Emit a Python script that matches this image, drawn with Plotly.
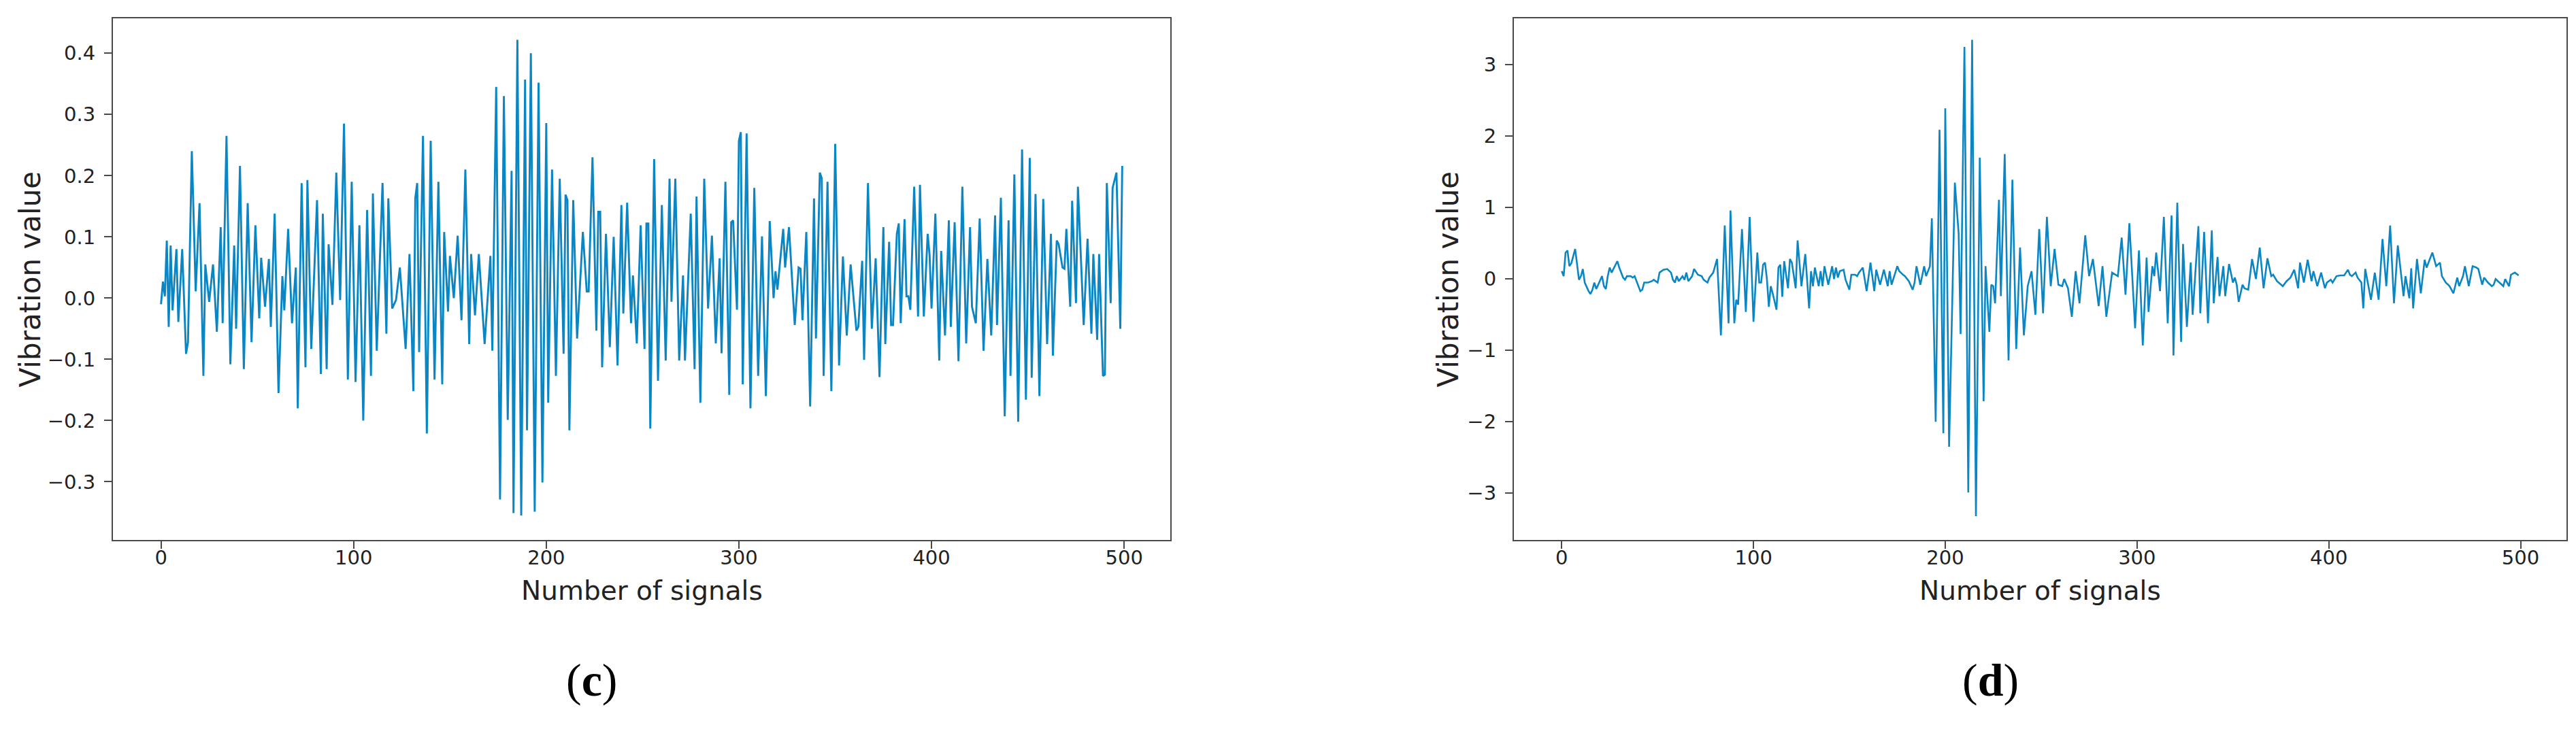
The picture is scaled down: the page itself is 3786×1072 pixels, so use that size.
import plotly.graph_objects as go

# vibration signal (c): sample number and value
left_n = [0, 1, 2, 3, 4, 5, 6, 8, 9, 11,
          13, 14, 16, 18, 20, 22, 23, 25, 27, 29,
          31, 32, 34, 36, 38, 39, 41, 43, 45, 47,
          49, 51, 52, 54, 56, 57, 59, 61, 63, 64,
          66, 68, 70, 71, 73, 75, 76, 78, 81, 83,
          84, 86, 87, 89, 91, 93, 95, 97, 99, 101,
          103, 105, 107, 109, 110, 112, 115, 117, 118, 120,
          122, 124, 127, 129, 131, 132, 133, 134, 136, 138,
          140, 142, 144, 146, 147, 149, 150, 152, 154, 156,
          158, 160, 161, 163, 165, 168, 171, 172, 174, 176,
          178, 180, 182, 183, 185, 187, 189, 190, 192, 194,
          196, 198, 200, 201, 203, 205, 207, 209, 210, 211,
          212, 214, 216, 219, 221, 222, 224, 226, 227, 228,
          229, 231, 233, 235, 237, 239, 240, 242, 244, 245,
          247, 249, 251, 252, 253, 254, 256, 258, 260, 262,
          264, 265, 267, 269, 271, 272, 275, 277, 278, 280,
          282, 284, 286, 288, 290, 291, 293, 295, 296, 297,
          299, 300, 301, 302, 304, 306, 308, 310, 312, 314,
          316, 318, 319, 320, 323, 324, 326, 329, 331, 332,
          333, 335, 337, 339, 340, 342, 343, 344, 346, 348,
          350, 352, 354, 356, 358, 361, 362, 364, 365, 367,
          369, 371, 373, 375, 376, 378, 379, 380, 382, 383,
          384, 386, 387, 388, 389, 391, 393, 394, 396, 398,
          399, 400, 402, 404, 405, 407, 409, 410, 412, 414,
          416, 418, 420, 421, 423, 425, 427, 429, 431, 433,
          434, 436, 438, 440, 441, 443, 445, 447, 449, 451,
          452, 454, 456, 458, 460, 462, 463, 465, 466, 468,
          469, 470, 472, 473, 475, 476, 479, 481, 483, 484,
          486, 487, 489, 490, 491, 493, 494, 496, 498, 499]
left_v = [-0.01, 0.027, 0.003, 0.094, -0.047, 0.086, -0.02, 0.08, -0.039, 0.08,
          -0.091, -0.072, 0.24, 0.011, 0.155, -0.127, 0.055, -0.006, 0.055, -0.055,
          0.116, -0.041, 0.265, -0.108, 0.086, -0.05, 0.216, -0.116, 0.155, -0.072,
          0.119, -0.033, 0.066, -0.014, 0.064, -0.047, 0.138, -0.155, 0.036, -0.02,
          0.113, -0.041, 0.05, -0.18, 0.188, -0.113, 0.193, -0.083, 0.16, -0.124,
          0.138, -0.116, 0.088, -0.011, 0.205, -0.003, 0.285, -0.133, 0.19, -0.137,
          0.119, -0.2, 0.144, -0.127, 0.171, -0.086, 0.188, -0.058, 0.163, -0.017,
          -0.003, 0.05, -0.083, 0.072, -0.152, 0.163, 0.188, -0.088, 0.265, -0.221,
          0.257, -0.133, 0.19, -0.141, 0.108, -0.022, 0.069, 0.0, 0.102, -0.036,
          0.21, -0.075, 0.072, -0.028, 0.072, -0.075, 0.069, -0.086, 0.345, -0.329,
          0.33, -0.199, 0.208, -0.351, 0.422, -0.355, 0.357, -0.216, 0.4, -0.349,
          0.352, -0.301, 0.286, -0.171, 0.21, -0.127, 0.195, -0.091, 0.169, 0.16,
          -0.216, 0.16, -0.066, 0.108, 0.011, 0.011, 0.23, -0.053, 0.141, 0.141,
          -0.113, 0.105, -0.08, 0.1, -0.11, 0.152, -0.025, 0.156, -0.041, 0.037,
          -0.074, 0.119, -0.083, 0.122, 0.122, -0.213, 0.227, -0.135, 0.152, -0.102,
          0.195, -0.006, 0.195, -0.102, 0.037, -0.102, 0.138, -0.116, 0.166, -0.171,
          0.195, -0.017, 0.102, -0.074, 0.065, -0.09, 0.19, -0.158, 0.124, 0.127,
          -0.019, 0.257, 0.271, -0.141, 0.269, -0.18, 0.18, -0.127, 0.101, -0.16,
          0.126, 0.0, 0.044, 0.014, 0.113, 0.05, 0.116, -0.044, 0.05, 0.048,
          -0.036, 0.108, -0.177, 0.163, -0.066, 0.205, 0.196, -0.127, 0.19, -0.152,
          0.252, -0.11, 0.068, -0.061, 0.055, -0.053, -0.047, 0.061, -0.101, 0.188,
          -0.05, 0.065, -0.129, 0.116, -0.075, 0.092, -0.044, -0.044, 0.105, 0.122,
          -0.041, 0.129, 0.003, 0.003, -0.019, 0.182, -0.03, 0.185, -0.03, 0.105,
          0.07, -0.017, 0.138, -0.102, 0.077, -0.061, 0.127, -0.047, 0.124, -0.103,
          0.182, -0.074, 0.116, -0.014, -0.041, 0.13, -0.086, 0.064, -0.061, 0.135,
          -0.044, 0.164, -0.193, 0.127, -0.127, 0.202, -0.202, 0.243, -0.166, 0.229,
          -0.13, 0.17, -0.16, 0.162, -0.075, 0.105, -0.094, 0.094, 0.088, 0.05,
          0.048, 0.113, -0.014, 0.159, -0.008, 0.182, -0.044, 0.097, -0.058, 0.072,
          -0.068, 0.072, -0.127, -0.125, 0.188, -0.008, 0.18, 0.205, -0.05, 0.216]

# vibration signal (d)
right_n = [0, 1, 2, 3, 4, 5, 7, 8, 9, 10,
           11, 12, 14, 15, 16, 17, 18, 19, 21, 22,
           23, 24, 25, 26, 27, 29, 30, 31, 32, 33,
           34, 36, 37, 38, 40, 41, 42, 43, 45, 47,
           48, 50, 51, 53, 55, 57, 58, 59, 60, 61,
           63, 64, 65, 66, 68, 69, 71, 73, 74, 76,
           77, 79, 81, 83, 85, 87, 88, 90, 91, 92,
           94, 96, 98, 100, 102, 103, 104, 105, 106, 107,
           108, 109, 110, 112, 113, 114, 115, 116, 118, 119,
           120, 122, 123, 125, 127, 129, 130, 131, 132, 134,
           135, 136, 137, 139, 141, 142, 143, 144, 145, 147,
           148, 150, 151, 153, 154, 155, 157, 159, 161, 163,
           164, 166, 168, 170, 171, 172, 175, 176, 178, 179,
           181, 183, 184, 185, 187, 189, 190, 192, 193, 195,
           197, 199, 200, 202, 205, 207, 208, 210, 212, 214,
           216, 218, 220, 221, 223, 224, 225, 226, 228, 229,
           231, 233, 235, 237, 239, 241, 243, 245, 247, 249,
           251, 253, 255, 257, 259, 261, 262, 264, 266, 268,
           270, 273, 275, 277, 280, 282, 284, 287, 290, 292,
           294, 296, 299, 301, 303, 305, 306, 308, 309, 310,
           312, 314, 316, 318, 319, 321, 323, 324, 326, 328,
           329, 332, 333, 335, 337, 339, 340, 342, 343, 345,
           346, 348, 350, 351, 352, 353, 355, 356, 358, 360,
           362, 364, 366, 368, 370, 371, 373, 376, 378, 380,
           382, 384, 385, 387, 389, 391, 392, 394, 396, 398,
           399, 401, 402, 404, 406, 408, 410, 411, 412, 414,
           415, 417, 418, 419, 422, 424, 426, 428, 430, 432,
           434, 436, 439, 440, 442, 443, 444, 446, 448, 450,
           451, 454, 456, 458, 459, 461, 463, 465, 467, 468,
           470, 471, 473, 475, 477, 478, 480, 481, 483, 485,
           486, 487, 489, 491, 492, 494, 495, 497, 499]
right_v = [0.11, 0.04, 0.37, 0.40, 0.18, 0.22, 0.42, 0.18, -0.01, 0.04,
           0.14, -0.05, -0.17, -0.21, -0.15, -0.05, -0.14, -0.08, 0.04, -0.1,
           -0.14, 0.04, 0.16, 0.09, 0.14, 0.25, 0.16, 0.09, 0.02, -0.01,
           0.04, 0.04, 0.02, 0.04, -0.1, -0.17, -0.15, -0.05, -0.05, -0.03,
           -0.01, -0.05, 0.09, 0.13, 0.14, 0.09, -0.01, -0.05, 0.04, -0.03,
           0.04, -0.01, 0.09, -0.03, 0.04, 0.14, 0.06, 0.04, -0.01, -0.05,
           0.02, 0.09, 0.28, -0.79, 0.75, -0.62, 0.96, -0.62, -0.29, -0.36,
           0.70, -0.46, 0.87, -0.6, 0.37, -0.05, -0.05, 0.2, 0.23, 0.0,
           -0.39, -0.1, -0.2, -0.43, 0.16, 0.2, -0.25, 0.25, -0.13, 0.28,
           0.23, -0.13, 0.54, -0.1, 0.35, -0.41, 0.11, -0.1, 0.16, -0.1,
           0.11, -0.1, 0.18, -0.08, 0.18, 0.0, 0.16, 0.02, 0.11, 0.13,
           -0.01, -0.15, 0.06, 0.06, 0.04, 0.09, 0.16, -0.17, 0.23, -0.17,
           0.13, -0.08, 0.13, -0.1, 0.11, -0.08, 0.18, 0.11, 0.06, 0.04,
           -0.03, -0.15, -0.05, 0.18, -0.08, 0.18, 0.04, 0.18, 0.85, -2.0,
           2.09, -2.16, 2.39, -2.35, 1.35, 0.63, -0.77, 3.25, -2.99, 3.35,
           -3.32, 1.70, -1.71, 0.18, -0.74, -0.08, -0.1, -0.34, 1.11, -0.24,
           1.75, -1.14, 1.39, -0.98, 0.44, -0.79, -0.1, 0.11, -0.5, 0.7,
           -0.48, 0.87, -0.1, 0.42, -0.08, -0.1, 0.0, -0.13, -0.53, 0.11,
           -0.34, 0.61, 0.04, 0.28, -0.38, 0.18, -0.53, 0.09, 0.04, 0.58,
           -0.22, 0.78, -0.69, 0.4, -0.93, 0.3, -0.46, 0.18, 0.04, 0.37,
           -0.17, 0.87, -0.62, 0.89, -1.07, 1.07, -0.88, 0.49, -0.67, 0.23,
           -0.5, 0.74, -0.48, 0.66, -0.62, 0.68, -0.34, 0.31, -0.24, 0.18,
           -0.24, 0.21, -0.05, 0.02, -0.08, -0.32, -0.08, -0.13, -0.15, 0.28,
           0.0, 0.44, -0.13, 0.29, 0.04, 0.06, -0.03, -0.1, -0.03, 0.02,
           0.13, -0.13, 0.23, -0.05, 0.27, -0.03, 0.11, -0.1, 0.09, -0.13,
           -0.05, -0.01, -0.05, 0.04, 0.05, 0.05, 0.13, 0.06, 0.04, 0.09,
           0.02, -0.05, -0.41, 0.14, -0.29, 0.09, -0.29, 0.56, -0.1, 0.75,
           -0.34, 0.47, -0.24, 0.04, -0.27, 0.15, -0.41, 0.28, -0.2, 0.27,
           0.16, 0.37, 0.18, 0.23, 0.04, -0.05, -0.1, -0.2, 0.02, -0.1,
           0.04, 0.18, -0.1, 0.18, 0.16, 0.14, -0.08, 0.02, -0.05, -0.1,
           -0.08, 0.0, -0.05, -0.1, 0.0, -0.1, 0.06, 0.09, 0.05]

x_ticks = [0, 100, 200, 300, 400, 500]
left_yticks = [-0.3, -0.2, -0.1, 0.0, 0.1, 0.2, 0.3, 0.4]
right_yticks = [-3, -2, -1, 0, 1, 2, 3]
panel_labels = ["(<b>c</b>)", "(<b>d</b>)"]

W, H = 3786, 1072
line_col = "#0a86c4"
txt_col = "#222222"

fig = go.Figure()
fig.add_trace(go.Scatter(x=left_n, y=left_v, mode="lines",
                         line=dict(color=line_col, width=2.9), xaxis="x", yaxis="y"))
fig.add_trace(go.Scatter(x=right_n, y=right_v, mode="lines",
                         line=dict(color=line_col, width=2.6), xaxis="x2", yaxis="y2"))

# axes boxes in pixels (left, right, top, bottom)
boxes = [(158, 1712, 19, 786), (2217, 3764, 19, 786)]

def xdom(b):
    return [b[0] / W, b[1] / W]

def ydom(b):
    return [1 - b[3] / H, 1 - b[2] / H]

common = dict(showline=True, linecolor="#4a4a4a", linewidth=2.2, mirror=True,
              ticks="outside", ticklen=11, tickwidth=2, tickcolor="#4a4a4a",
              showgrid=False, zeroline=False,
              tickfont=dict(family="DejaVu Sans", size=29, color=txt_col))

fig.update_layout(
    width=W, height=H, margin=dict(l=0, r=0, t=0, b=0),
    paper_bgcolor="white", plot_bgcolor="white", showlegend=False,
    xaxis=dict(domain=xdom(boxes[0]), range=[-24.95, 523.95], tickvals=x_ticks,
               anchor="y", ticklabelstandoff=-12, **common),
    yaxis=dict(domain=ydom(boxes[0]), range=[-0.395, 0.457], tickvals=left_yticks,
               tickformat=".1f", anchor="x", ticklabelstandoff=7, **common),
    xaxis2=dict(domain=xdom(boxes[1]), range=[-24.95, 523.95], tickvals=x_ticks,
                anchor="y2", ticklabelstandoff=-12, **common),
    yaxis2=dict(domain=ydom(boxes[1]), range=[-3.654, 3.65], tickvals=right_yticks,
                anchor="x2", ticklabelstandoff=7, **common),
)

xt_font = dict(family="DejaVu Sans", size=39, color=txt_col)
yt_font = dict(family="DejaVu Sans", size=42, color=txt_col)
for b, ytx, lab in zip(boxes, [36, 2120], panel_labels):
    cx = (b[0] + b[1]) / 2 / W
    fig.add_annotation(x=cx, y=1 - 860 / H, xref="paper", yref="paper",
                       xanchor="center", yanchor="middle",
                       text="Number of signals", showarrow=False, font=xt_font)
    fig.add_annotation(x=ytx / W, y=1 - (b[2] + b[3]) / 2 / H, xref="paper", yref="paper",
                       xanchor="center", yanchor="middle",
                       text="Vibration value", textangle=-90, showarrow=False, font=yt_font)
    fig.add_annotation(x=cx - 73 / W, y=1 - 992 / H, xref="paper", yref="paper",
                       xanchor="center", yanchor="middle",
                       text=lab, showarrow=False,
                       font=dict(family="Liberation Serif", size=68, color="black"))

fig.write_html("out.html")
